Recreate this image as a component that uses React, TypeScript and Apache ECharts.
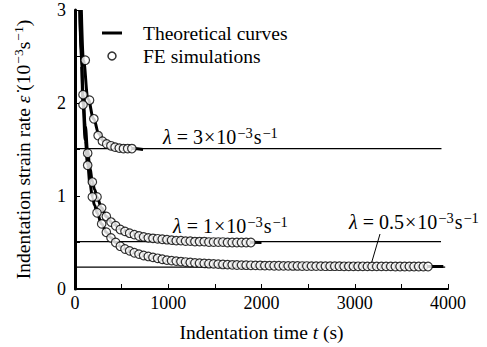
import React, { useEffect, useRef } from "react";
import * as echarts from "echarts";

// Theoretical curves (time s, strain rate 10^-3 s^-1)
const theoTime3 = [68, 90, 140, 200, 255, 300, 375, 500, 620, 730];
const theoRate3 = [3.0, 2.46, 2.04, 1.83, 1.67, 1.6, 1.55, 1.52, 1.51, 1.5];
const theoTime1 = [52, 70, 86, 110, 136, 160, 186, 210, 236, 286, 336, 400, 500, 600, 700, 800, 1000, 1200, 1500, 2000];
const theoRate1 = [3.0, 2.5, 2.09, 1.75, 1.48, 1.3, 1.16, 1.07, 0.99, 0.87, 0.78, 0.71, 0.64, 0.6, 0.57, 0.55, 0.53, 0.515, 0.505, 0.5];
const theoTime05 = [52, 70, 86, 110, 136, 160, 186, 210, 236, 286, 336, 386, 436, 500, 600, 700, 800, 1000, 1200, 1500, 2000, 2500, 3000, 3500, 3950];
const theoRate05 = [3.0, 2.4, 1.98, 1.6, 1.34, 1.14, 0.99, 0.9, 0.82, 0.7, 0.61, 0.55, 0.5, 0.45, 0.4, 0.37, 0.345, 0.31, 0.285, 0.265, 0.252, 0.247, 0.245, 0.243, 0.242];

// FE simulations
const feTime3 = [110, 156, 202, 248, 294, 340, 385, 430, 475, 520, 565, 610];
const feRate3 = [2.46, 2.03, 1.83, 1.65, 1.59, 1.56, 1.54, 1.525, 1.515, 1.51, 1.51, 1.51];
const feTime1 = [86, 136, 186, 236, 286, 336, 386, 436, 486, 536, 586, 636, 686, 736, 786, 836, 886, 936, 986, 1036, 1086, 1136, 1186, 1236, 1286, 1336, 1386, 1436, 1486, 1536, 1586, 1636, 1686, 1736, 1786, 1836, 1886];
const feRate1 = [2.09, 1.46, 1.15, 0.99, 0.87, 0.78, 0.72, 0.68, 0.64, 0.62, 0.6, 0.585, 0.57, 0.56, 0.55, 0.545, 0.54, 0.535, 0.53, 0.525, 0.52, 0.52, 0.515, 0.515, 0.51, 0.51, 0.51, 0.505, 0.505, 0.505, 0.505, 0.5, 0.5, 0.5, 0.5, 0.5, 0.5];
const feTime05 = [86, 136, 186, 236, 286, 336, 386, 436, 486, 536, 586, 636, 686, 736, 786, 836, 886, 936, 986, 1036, 1086, 1136, 1186, 1236, 1286, 1336, 1386, 1436, 1486, 1536, 1586, 1636, 1686, 1736, 1786, 1836, 1886, 1936, 1986, 2036, 2086, 2136, 2186, 2236, 2286, 2336, 2386, 2436, 2486, 2536, 2586, 2636, 2686, 2736, 2786, 2836, 2886, 2936, 2986, 3036, 3086, 3136, 3186, 3236, 3286, 3336, 3386, 3436, 3486, 3536, 3586, 3636, 3686, 3736, 3786];
const feRate05 = [1.98, 1.33, 0.99, 0.82, 0.7, 0.61, 0.55, 0.5, 0.46, 0.43, 0.41, 0.39, 0.375, 0.36, 0.35, 0.34, 0.33, 0.32, 0.31, 0.305, 0.3, 0.295, 0.29, 0.285, 0.28, 0.278, 0.275, 0.272, 0.27, 0.268, 0.264, 0.262, 0.26, 0.258, 0.257, 0.256, 0.255, 0.254, 0.253, 0.252, 0.251, 0.25, 0.25, 0.249, 0.249, 0.248, 0.248, 0.247, 0.247, 0.246, 0.246, 0.246, 0.245, 0.245, 0.245, 0.245, 0.244, 0.244, 0.244, 0.244, 0.244, 0.243, 0.243, 0.243, 0.243, 0.243, 0.243, 0.242, 0.242, 0.242, 0.242, 0.242, 0.242, 0.242, 0.242];

// Steady-state asymptotes (rate, end time)
const asymRates = [1.51, 0.51, 0.236];
const asymEnds = [3930, 3925, 3970];

// Annotation labels (lambda mantissa)
const lambdaLabels = ["3", "1", "0.5"];

const xTicks = { min: 0, max: 4000, interval: 500, labelStep: 1000 };
const yTicks = { min: 0, max: 3, interval: 0.5, labelStep: 1 };

const FONT = "Liberation Serif";

const zip = (a: number[], b: number[]) => a.map((v, i) => [v, b[i]]);

export default function App() {
  const ref = useRef<HTMLDivElement>(null);
  useEffect(() => {
    if (!ref.current) return;
    const chart = echarts.init(ref.current, undefined, { renderer: "svg" });
    const FS = 19.5;
    const rich = {
      n: { fontFamily: FONT, fontSize: FS, color: "#000", lineHeight: 24 },
      i: { fontFamily: FONT, fontSize: FS, color: "#000", fontStyle: "italic", lineHeight: 24 },
      s: { fontFamily: FONT, fontSize: 13.5, color: "#000", lineHeight: 13, verticalAlign: "top", padding: [0, 0, 0, 1] },
    };
    const AF = 20;
    const arich = {
      n: { fontFamily: FONT, fontSize: AF, color: "#000", lineHeight: 24 },
      i: { fontFamily: FONT, fontSize: AF, color: "#000", fontStyle: "italic", lineHeight: 24 },
      e: { fontFamily: FONT, fontSize: AF, color: "#000", lineHeight: 24, padding: [0, 5, 0, 5] },
      x: { fontFamily: FONT, fontSize: AF, color: "#000", lineHeight: 24, padding: [0, 1, 0, 1] },
      s: { fontFamily: FONT, fontSize: 14.5, color: "#000", lineHeight: 13, verticalAlign: "top", padding: [0, 1, 0, 1] },
    };
    const theo = (t: number[], r: number[]) => ({
      type: "line",
      name: "Theoretical curves",
      data: zip(t, r),
      symbol: "none",
      smooth: 0.4,
      smoothMonotone: "x",
      itemStyle: { color: "#000" },
      lineStyle: { color: "#000", width: 3 },
      z: 3,
    });
    const fe = (t: number[], r: number[]) => ({
      type: "scatter",
      name: "FE simulations",
      data: zip(t, r),
      symbol: "circle",
      symbolSize: 8.5,
      itemStyle: { color: "#fff", borderColor: "#000", borderWidth: 1.2 },
      z: 4,
    });
    const asym = asymRates.map((r, i) => ({
      type: "line",
      name: "asym" + i,
      data: [
        [0, r],
        [asymEnds[i], r],
      ],
      symbol: "none",
      lineStyle: { color: "#000", width: 1.3 },
      z: 2,
      silent: true,
    }));
    const annPos = [
      { left: 163, top: 125 },
      { left: 173, top: 214 },
      { left: 349, top: 210 },
    ];
    chart.setOption({
      animation: false,
      backgroundColor: "#fff",
      textStyle: { fontFamily: FONT, color: "#000" },
      grid: { left: 75, right: 39, top: 10, bottom: 57 },
      legend: {
        data: [
          { name: "Theoretical curves", icon: "path://M0,0H20V3H0Z", itemStyle: { color: "#000" } },
          {
            name: "FE simulations",
            icon: "circle",
            itemStyle: { color: "#fff", borderColor: "#000", borderWidth: 1.5 },
          },
        ],
        orient: "vertical",
        left: 97,
        top: 18,
        itemWidth: 20,
        itemHeight: 8,
        itemGap: 3,
        symbolKeepAspect: true,
        textStyle: { fontFamily: FONT, fontSize: FS, color: "#000", padding: [0, 0, 0, 16] },
      },
      xAxis: {
        type: "value",
        min: xTicks.min,
        max: xTicks.max,
        interval: xTicks.interval,
        splitLine: { show: false },
        axisLine: { lineStyle: { color: "#000", width: 2 } },
        axisTick: { inside: true, length: 5, lineStyle: { color: "#000", width: 1 } },
        axisLabel: {
          fontFamily: FONT,
          fontSize: 18,
          color: "#000",
          margin: 5,
          formatter: (v: number) => (v % xTicks.labelStep === 0 ? String(v) : ""),
        },
        name: "{n|Indentation time }{i|t}{n| (s)}",
        nameLocation: "middle",
        nameGap: 31,
        nameTextStyle: { rich },
      },
      yAxis: {
        type: "value",
        min: yTicks.min,
        max: yTicks.max,
        interval: yTicks.interval,
        splitLine: { show: false },
        axisLine: { show: true, lineStyle: { color: "#000", width: 3 } },
        axisTick: { show: true, inside: true, length: 5, lineStyle: { color: "#000", width: 1 } },
        axisLabel: {
          fontFamily: FONT,
          fontSize: 18,
          color: "#000",
          margin: 9,
          formatter: (v: number) => (v % yTicks.labelStep === 0 ? String(v) : ""),
        },
        name: "{n|Indentation strain rate }{i|ε̇}{n| (10}{s|−3}{n|s}{s|−1}{n|)}",
        nameLocation: "middle",
        nameGap: 40,
        nameRotate: 90,
        nameTextStyle: { rich },
      },
      graphic: [
        ...lambdaLabels.map((m, i) => ({
          type: "text",
          left: annPos[i].left,
          top: annPos[i].top,
          style: { text: `{i|λ}{e|=}{n|${m}}{x|×}{n|10}{s|−3}{n|s}{s|−1}`, rich: arich, fontFamily: FONT },
        })),
        {
          type: "line",
          shape: { x1: 380, y1: 234, x2: 371.5, y2: 263 },
          style: { stroke: "#000", lineWidth: 1 },
        },
      ],
      series: [
        ...asym,
        theo(theoTime3, theoRate3),
        theo(theoTime1, theoRate1),
        theo(theoTime05, theoRate05),
        fe(feTime3, feRate3),
        fe(feTime1, feRate1),
        fe(feTime05, feRate05),
      ],
    });
    return () => chart.dispose();
  }, []);
  return (
    <div
      ref={ref}
      style={{ position: "fixed", left: 0, top: 0, width: 487, height: 347, background: "#fff" }}
    />
  );
}
